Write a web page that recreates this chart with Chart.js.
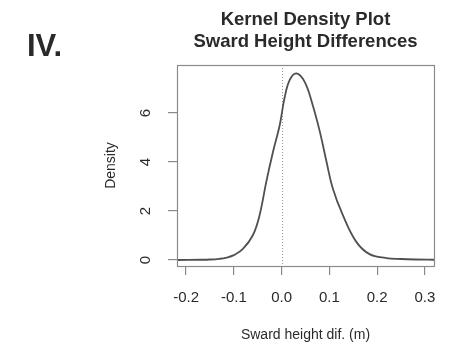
<!DOCTYPE html>
<html>
<head>
<meta charset="utf-8">
<script src="https://cdn.jsdelivr.net/npm/chart.js@4.4.1/dist/chart.umd.min.js"></script>
<style>
  html, body { margin: 0; padding: 0; background: #fff; }
  #wrap { width: 451px; height: 345px; }
</style>
</head>
<body>
<div id="wrap"><canvas id="density_chart" width="451" height="345"></canvas></div>
<script>
// kernel density estimate
var dens_x = [-0.219, -0.17, -0.15, -0.13, -0.115, -0.10, -0.081, -0.060, -0.046, -0.032, -0.018, -0.004, 0.006, 0.017, 0.031, 0.048, 0.065, 0.080, 0.094, 0.107, 0.128, 0.156, 0.184, 0.219, 0.25, 0.28, 0.319];
var dens_y = [0.0, 0.01, 0.02, 0.05, 0.1, 0.2, 0.45, 1.02, 1.84, 3.2, 4.42, 5.5, 6.6, 7.35, 7.62, 7.28, 6.33, 5.24, 4.01, 2.93, 1.84, 0.75, 0.24, 0.08, 0.04, 0.02, 0.01];

var x_ticks = [-0.2, -0.1, 0.0, 0.1, 0.2, 0.3];
var y_ticks = [0, 2, 4, 6];
var x_range = [-0.219, 0.319];
var y_range = [-0.245, 7.96];

var panel_label = 'IV.';
var title_lines = ['Kernel Density Plot', 'Sward Height Differences'];
var x_title = 'Sward height dif. (m)';
var y_title = 'Density';

var points = [];
for (var i = 0; i < dens_x.length; i++) {
    points.push({x: dens_x[i], y: dens_y[i]});
}

var FONT = "'Liberation Sans', Arial, sans-serif";
var TEXT = '#2a2a2a';
var AXIS = '#8a8a8a';

// box, zero line, titles and rotated y labels (R style)
var rPlotExtras = {
    id: 'rPlotExtras',
    beforeDatasetsDraw: function (chart) {
        var ctx = chart.ctx;
        var xs = chart.scales.x;
        var a = chart.chartArea;
        var x0 = Math.round(xs.getPixelForValue(0)) + 0.5;
        ctx.save();
        ctx.strokeStyle = '#9a9a9a';
        ctx.lineWidth = 1;
        ctx.setLineDash([1, 2]);
        ctx.beginPath();
        ctx.moveTo(x0, a.top);
        ctx.lineTo(x0, a.bottom);
        ctx.stroke();
        ctx.restore();
    },
    afterDraw: function (chart) {
        var ctx = chart.ctx;
        var a = chart.chartArea;
        var ys = chart.scales.y;
        ctx.save();
        ctx.strokeStyle = AXIS;
        ctx.lineWidth = 1.2;
        ctx.strokeRect(Math.round(a.left) + 0.5, Math.round(a.top) + 0.5,
            Math.round(a.right - a.left), Math.round(a.bottom - a.top));

        ctx.fillStyle = TEXT;
        ctx.textBaseline = 'middle';

        // panel label
        ctx.textAlign = 'left';
        ctx.font = 'bold 31px ' + FONT;
        ctx.fillText(panel_label, 27, 47);

        // main title centred over plot region
        ctx.textAlign = 'center';
        ctx.font = 'bold 18.5px ' + FONT;
        var cx = (a.left + a.right) / 2;
        ctx.fillText(title_lines[0], cx, 20);
        ctx.fillText(title_lines[1], cx, 42);

        // y tick labels, rotated like R's las=0
        ctx.font = '15px ' + FONT;
        for (var i = 0; i < y_ticks.length; i++) {
            var py = ys.getPixelForValue(y_ticks[i]);
            ctx.save();
            ctx.translate(146, py);
            ctx.rotate(-Math.PI / 2);
            ctx.fillText(String(y_ticks[i]), 0, 0);
            ctx.restore();
        }

        // y axis title
        ctx.save();
        ctx.translate(111, (a.top + a.bottom) / 2);
        ctx.rotate(-Math.PI / 2);
        ctx.font = '14px ' + FONT;
        ctx.fillText(y_title, 0, 0);
        ctx.restore();

        // x axis title
        ctx.font = '14px ' + FONT;
        ctx.fillText(x_title, cx, 335);
        ctx.restore();
    }
};

var density_chart = new Chart(document.getElementById('density_chart').getContext('2d'), {
    type: 'scatter',
    data: {
        datasets: [{
            data: points,
            showLine: true,
            borderColor: '#505050',
            borderWidth: 1.8,
            pointRadius: 0,
            tension: 0.4,
            fill: false
        }]
    },
    options: {
        responsive: false,
        animation: false,
        layout: {
            padding: {top: 65, right: 17, left: 0, bottom: 0}
        },
        plugins: {
            legend: {display: false},
            title: {display: false},
            tooltip: {enabled: false}
        },
        scales: {
            x: {
                type: 'linear',
                min: x_range[0],
                max: x_range[1],
                afterBuildTicks: function (scale) {
                    scale.ticks = x_ticks.map(function (v) { return {value: v}; });
                },
                afterFit: function (scale) {
                    scale.height = 345 - 266;
                },
                border: {display: false},
                grid: {
                    drawOnChartArea: false,
                    drawTicks: true,
                    tickLength: 9,
                    color: AXIS,
                    lineWidth: 1.2
                },
                ticks: {
                    autoSkip: false,
                    maxRotation: 0,
                    padding: 14,
                    color: TEXT,
                    font: {family: FONT, size: 15},
                    callback: function (v) { return v.toFixed(1); }
                }
            },
            y: {
                type: 'linear',
                min: y_range[0],
                max: y_range[1],
                afterBuildTicks: function (scale) {
                    scale.ticks = y_ticks.map(function (v) { return {value: v}; });
                },
                afterFit: function (scale) {
                    scale.width = 177;
                },
                border: {display: false},
                grid: {
                    drawOnChartArea: false,
                    drawTicks: true,
                    tickLength: 9,
                    color: AXIS,
                    lineWidth: 1.2
                },
                ticks: {
                    display: false
                }
            }
        }
    },
    plugins: [rPlotExtras]
});
</script>
</body>
</html>
